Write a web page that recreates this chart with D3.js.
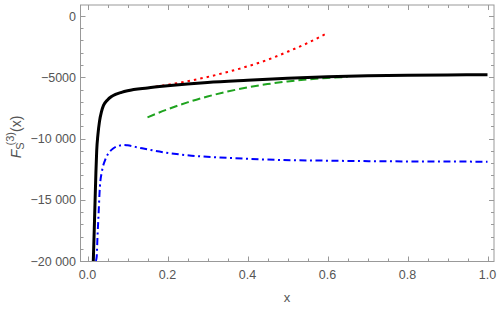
<!DOCTYPE html>
<html>
<head>
<meta charset="utf-8">
<script src="https://cdn.jsdelivr.net/npm/d3@7"></script>
<style>
  body { margin: 0; background: #fff; }
  text { font-family: "Liberation Sans", Arial, sans-serif; }
</style>
</head>
<body>
<div id="chart"></div>
<script>
'use strict'

var width = 501;
var height = 309;

// data: x values and F values per curve
var blackX = [0.0145, 0.017, 0.019, 0.021, 0.023, 0.026, 0.03, 0.035, 0.04, 0.05, 0.06, 0.07, 0.085, 0.1, 0.15, 0.2, 0.3, 0.4, 0.5, 0.6, 0.7, 0.8, 0.9, 1.0];
var blackY = [-20000, -17300, -15000, -12800, -11000, -9700, -8600, -7800, -7300, -6850, -6580, -6400, -6230, -6100, -5870, -5700, -5430, -5250, -5090, -4960, -4880, -4830, -4810, -4800];

var redX = [0.17, 0.2, 0.25, 0.3, 0.35, 0.4, 0.45, 0.5, 0.55, 0.595];
var redY = [-5770, -5620, -5320, -4980, -4570, -4110, -3580, -2920, -2210, -1470];

var greenX = [0.15, 0.2, 0.25, 0.3, 0.35, 0.4, 0.45, 0.5, 0.55, 0.6, 0.65];
var greenY = [-8270, -7620, -7050, -6570, -6170, -5830, -5560, -5340, -5180, -5060, -4980];

var blueX = [0.021, 0.023, 0.025, 0.027, 0.031, 0.036, 0.044, 0.055, 0.065, 0.08, 0.09, 0.1, 0.13, 0.18, 0.26, 0.35, 0.43, 0.6, 0.8, 1.0];
var blueY = [-20000, -19650, -18000, -16650, -13930, -12700, -11760, -11100, -10800, -10580, -10530, -10560, -10760, -11070, -11400, -11580, -11700, -11810, -11870, -11890];

var xTicks = [0, 0.2, 0.4, 0.6, 0.8, 1.0];
var xTickLabels = ['0.0', '0.2', '0.4', '0.6', '0.8', '1.0'];
var yTicks = [0, -5000, -10000, -15000, -20000];
var yTickLabels = ['0', '\u22125000', '\u221210 000', '\u221215 000', '\u221220 000'];

var svg = d3.select('#chart').append('svg')
  .attr('width', width)
  .attr('height', height);

// frame bounds
var frameLeft = 80.5, frameRight = 494, frameTop = 5, frameBottom = 261.5;

var xScale = d3.scaleLinear().domain([0, 1]).range([87.5, 487.5]);
var yScale = d3.scaleLinear().domain([-20000, 0]).range([261, 16]);

svg.append('clipPath').attr('id', 'clip')
  .append('rect')
    .attr('x', frameLeft).attr('y', frameTop)
    .attr('width', frameRight - frameLeft).attr('height', frameBottom - frameTop);

// ticks, pointing inward on all four sides
var frameColor = '#999';
var textColor = '#555';
var ticks = svg.append('g');

var xMinor = d3.range(0, 21).map(function(i){ return i * 0.05; });
xMinor.forEach(function(v, i){
  var len = (i % 4 === 0) ? 5 : 3;
  var px = Math.round(xScale(v)) + 0.5;
  ticks.append('line').attr('x1', px).attr('x2', px)
    .attr('y1', frameBottom).attr('y2', frameBottom - len).attr('stroke', frameColor);
  ticks.append('line').attr('x1', px).attr('x2', px)
    .attr('y1', frameTop).attr('y2', frameTop + len).attr('stroke', frameColor);
});

var yMinor = d3.range(0, 21).map(function(i){ return -i * 1000; });
yMinor.forEach(function(v, i){
  var len = (i % 5 === 0) ? 5 : 3;
  var py = Math.round(yScale(v)) + 0.5;
  ticks.append('line').attr('x1', frameLeft).attr('x2', frameLeft + len)
    .attr('y1', py).attr('y2', py).attr('stroke', frameColor);
  ticks.append('line').attr('x1', frameRight).attr('x2', frameRight - len)
    .attr('y1', py).attr('y2', py).attr('stroke', frameColor);
});

// frame
svg.append('rect')
  .attr('x', frameLeft).attr('y', frameTop)
  .attr('width', frameRight - frameLeft).attr('height', frameBottom - frameTop)
  .attr('fill', 'none').attr('stroke', frameColor);

// tick labels
svg.append('g').selectAll('text').data(xTicks).enter().append('text')
  .attr('x', function(d){ return xScale(d); })
  .attr('y', 279)
  .attr('text-anchor', 'middle')
  .attr('font-size', 12.5)
  .attr('fill', textColor)
  .text(function(d, i){ return xTickLabels[i]; });

svg.append('g').selectAll('text').data(yTicks).enter().append('text')
  .attr('x', 76)
  .attr('y', function(d){ return yScale(d) + 4.5; })
  .attr('text-anchor', 'end')
  .attr('font-size', 12.5)
  .attr('fill', textColor)
  .text(function(d, i){ return yTickLabels[i]; });

// axis labels
svg.append('text')
  .attr('x', 287).attr('y', 302)
  .attr('text-anchor', 'middle')
  .attr('font-size', 13)
  .attr('fill', textColor)
  .text('x');

var yLab = svg.append('text')
  .attr('transform', 'translate(21,137) rotate(-90)')
  .attr('text-anchor', 'middle')
  .attr('font-size', 14)
  .attr('fill', textColor);
yLab.append('tspan').attr('font-style', 'italic').text('F');
yLab.append('tspan').attr('font-size', 11).attr('dy', 3).text('S');
yLab.append('tspan').attr('font-size', 11).attr('dx', -3).attr('dy', -10).text('(3)');
yLab.append('tspan').attr('dy', 7).text('(x)');

// curves
function pts(xs, ys){
  return xs.map(function(x, i){ return [x, ys[i]]; });
}

var line = d3.line()
  .x(function(d){ return xScale(d[0]); })
  .y(function(d){ return yScale(d[1]); })
  .curve(d3.curveMonotoneX);

var curves = svg.append('g').attr('clip-path', 'url(#clip)');

curves.append('path').datum(pts(blueX, blueY))
  .attr('d', line).attr('fill', 'none')
  .attr('stroke', '#0000ff').attr('stroke-width', 2)
  .attr('stroke-dasharray', '7,3.5,2,3.5');

curves.append('path').datum(pts(greenX, greenY))
  .attr('d', line).attr('fill', 'none')
  .attr('stroke', '#1fa31f').attr('stroke-width', 2)
  .attr('stroke-dasharray', '8,4');

curves.append('path').datum(pts(redX, redY))
  .attr('d', line).attr('fill', 'none')
  .attr('stroke', '#ff0000').attr('stroke-width', 2)
  .attr('stroke-dasharray', '2.5,4');

curves.append('path').datum(pts(blackX, blackY))
  .attr('d', line).attr('fill', 'none')
  .attr('stroke', '#000').attr('stroke-width', 3);
</script>
</body>
</html>
